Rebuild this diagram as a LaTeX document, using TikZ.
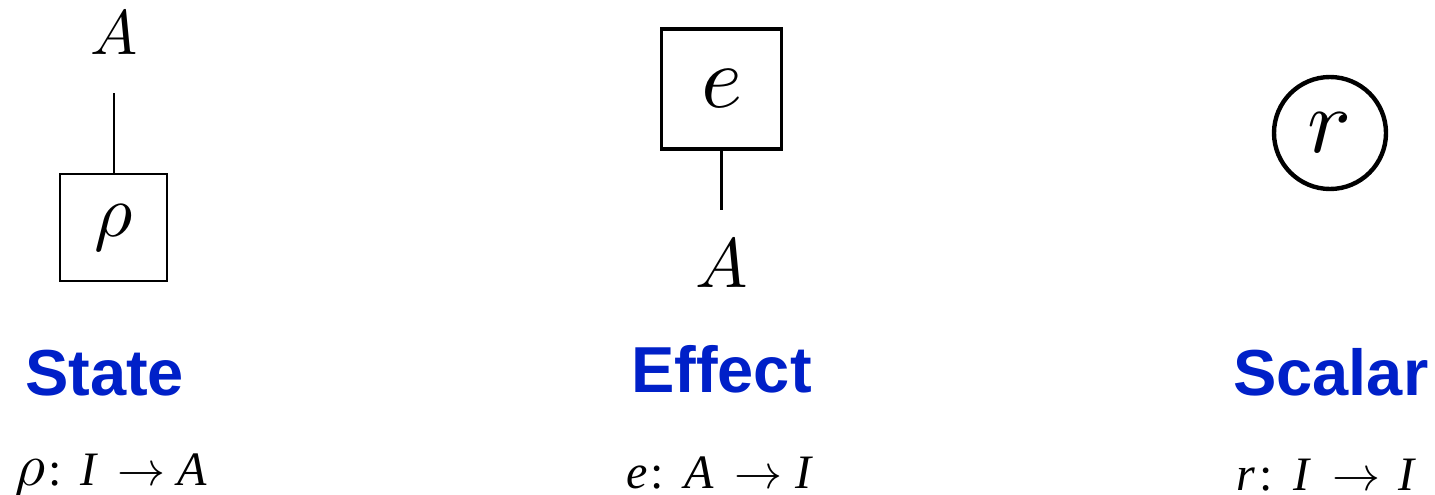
\documentclass[tikz,border=0pt]{standalone}
\usepackage{fontspec}
\DeclareFontFamily{OML}{cmm}{\skewchar\font127 }
\DeclareFontShape{OML}{cmm}{m}{it}{<->cmmi10}{}
\DeclareFontFamily{OMS}{cmsy}{\skewchar\font48 }
\DeclareFontShape{OMS}{cmsy}{m}{n}{<->cmsy10}{}
\newfontfamily\timesfont{Liberation Serif}
\newfontfamily\labelfont{Liberation Sans}
\definecolor{labelblue}{RGB}{0,32,200}
\newcommand{\arr}{\ensuremath{\rightarrow}}
\newcommand{\gap}[1]{\hspace*{#1pt}}
\tikzset{
  boxnode/.style={draw, rectangle, inner sep=0pt},
  wire/.style={line width=2pt},
  title/.style={font=\labelfont\bfseries\fontsize{65}{70}\selectfont, text=labelblue, anchor=base west, inner sep=0pt},
  formula/.style={font=\timesfont\fontsize{48}{54}\selectfont, anchor=base west, inner sep=0pt},
  syslabel/.style={anchor=base, inner sep=0pt}
}
\begin{document}
\begin{tikzpicture}[x=1pt,y=-1pt]
\useasboundingbox (0,0) rectangle (1435,495);
% State
\node[boxnode, line width=2.7pt, minimum size=107pt, font=\fontsize{74}{80}\selectfont] (rho) at (113.5,227.5) {$\rho$};
\coordinate (rhoend) at (113.5,93);
\draw[wire] (rho.north) -- (rhoend);
\node[syslabel, font=\fontsize{63}{70}\selectfont] (Astate) at (114,55) {$A$};
% Effect
\node[boxnode, line width=3.2pt, minimum size=120pt, font=\fontsize{88}{90}\selectfont] (eff) at (721.5,89) {$e$};
\coordinate (effend) at (721.5,210);
\draw[wire, line width=2.6pt] (eff.south) -- (effend);
\node[syslabel, font=\fontsize{70}{76}\selectfont] (Aeff) at (722,287) {$A$};
% Scalar
\node[draw, circle, line width=4.4pt, minimum size=112pt, inner sep=0pt, font=\fontsize{92}{96}\selectfont] (scal) at (1330,133) {$r$};
% Titles
\node[title] (tstate) at (25,395) {State};
\node[title] (teff) at (631,392) {Effect};
\node[title] (tscal) at (1233,395) {Scalar};
% Formulas
\node[formula] (fstate) at (14,485) {{\fontsize{60}{60}\selectfont$\rho$}\gap{3}:\gap{19}\textit{I}\gap{19}\arr\gap{12}\textit{A}};
\node[formula] (feff) at (626,488) {\textit{e}\gap{3}:\gap{21}\textit{A}\gap{20}\arr\gap{13}\textit{I}};
\node[formula] (fscal) at (1236,490) {\textit{r}\gap{4}:\gap{21}\textit{I}\gap{21}\arr\gap{18}\textit{I}};
\end{tikzpicture}
\end{document}
